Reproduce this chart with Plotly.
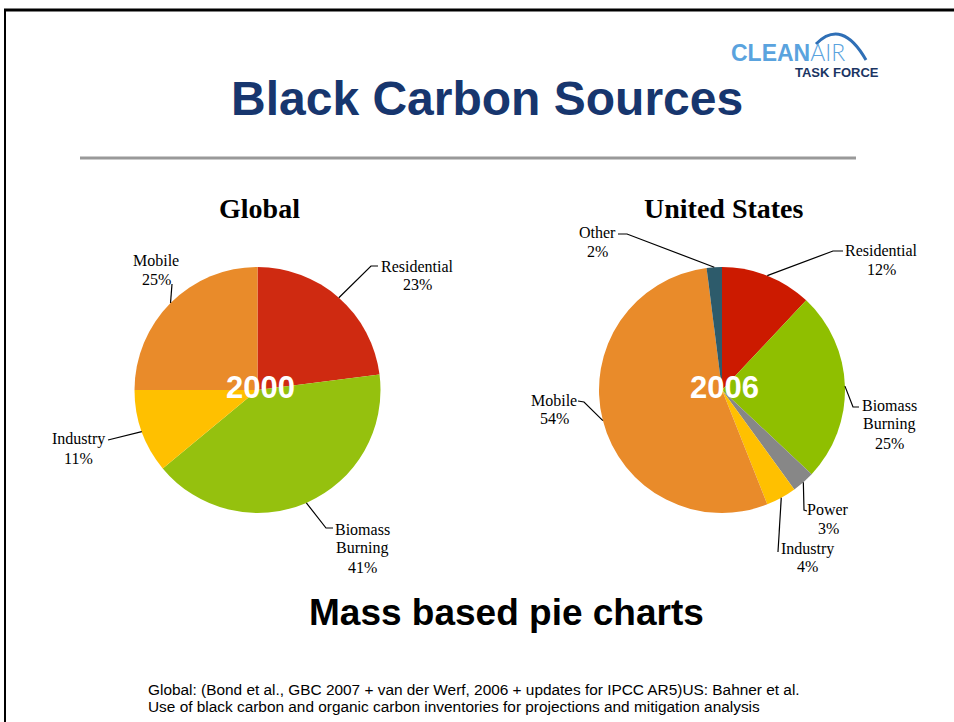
import math
import plotly.graph_objects as go

W, H = 954, 722

# ---------------- data ----------------
global_categories = ["Residential", "Biomass Burning", "Industry", "Mobile"]
global_values = [23, 41, 11, 25]
us_categories = ["Residential", "Biomass Burning", "Power", "Industry", "Mobile", "Other"]
us_values = [12, 25, 3, 4, 54, 2]
pie_titles = ["Global", "United States"]
pie_years = ["2000", "2006"]

# ---------------- styles / layout constants ----------------
global_colors = ["#CF2A11", "#95C10E", "#FFC000", "#E98B2A"]
us_colors = ["#CC1A00", "#8FBF00", "#878787", "#FFC000", "#E98B2A", "#2D5B6B"]
R = 123
GLOBAL_C = (257.5, 390)
US_C = (722, 390)

GLOBAL_LABELS = {
    "Residential": dict(via=[(371, 266), (378, 266)], x=417, ys=[266, 284]),
    "Biomass Burning": dict(via=[(326, 528), (333, 528)], x=362, ys=[529, 548, 567]),
    "Industry": dict(via=[(108, 440)], x=78, ys=[439, 458]),
    "Mobile": dict(via=[(172, 284)], x=156, ys=[260, 279]),
}
US_LABELS = {
    "Residential": dict(via=[(833, 251), (843, 251)], x=881, ys=[250, 269]),
    "Biomass Burning": dict(via=[(853, 407), (859, 407)], x=889, ys=[406, 424, 443]),
    "Power": dict(via=[(804, 510), (807, 511)], x=828, ys=[509, 528]),
    "Industry": dict(via=[(778, 552)], x=807, ys=[549, 566]),
    "Mobile": dict(via=[(584, 402), (578, 401)], x=554, ys=[400, 418]),
    "Other": dict(via=[(627, 234), (618, 234)], x=597, ys=[232, 251]),
}


def px(x, y):
    return x / W, 1 - y / H


def domain(c):
    cx, cy = c
    return dict(x=[(cx - R) / W, (cx + R) / W], y=[1 - (cy + R) / H, 1 - (cy - R) / H])


fig = go.Figure()
for cats, vals, cols, c in [(global_categories, global_values, global_colors, GLOBAL_C),
                            (us_categories, us_values, us_colors, US_C)]:
    fig.add_trace(go.Pie(
        labels=cats, values=vals, sort=False, direction="clockwise", rotation=0,
        marker=dict(colors=cols, line=dict(width=0)), textinfo="none",
        hoverinfo="label+percent", domain=domain(c), showlegend=False,
    ))

shapes = []
annotations = []


def add_labels(cats, vals, c, specs):
    total = sum(vals)
    cum = 0
    cx, cy = c
    for cat, v in zip(cats, vals):
        theta = 2 * math.pi * (cum + v / 2) / total
        cum += v
        ax, ay = cx + R * math.sin(theta), cy - R * math.cos(theta)
        spec = specs[cat]
        pts = [(ax, ay)] + spec["via"]
        path = "M " + " L ".join("%.5f,%.5f" % px(x, y) for x, y in pts)
        shapes.append(dict(type="path", path=path, xref="paper", yref="paper",
                           line=dict(color="black", width=1.2)))
        lines = cat.split(" ") + ["%d%%" % v]
        for text, yy in zip(lines, spec["ys"]):
            xx, yp = px(spec["x"], yy)
            annotations.append(dict(text=text, x=xx, y=yp, xref="paper", yref="paper",
                                    xanchor="center", yanchor="middle", showarrow=False,
                                    font=dict(family="Liberation Serif", size=16, color="black")))


add_labels(global_categories, global_values, GLOBAL_C, GLOBAL_LABELS)
add_labels(us_categories, us_values, US_C, US_LABELS)

# pie titles and center years
for title, year, c in zip(pie_titles, pie_years, [GLOBAL_C, US_C]):
    xx, yy = px(c[0] + 2, 208)
    annotations.append(dict(text="<b>%s</b>" % title, x=xx, y=yy, xref="paper", yref="paper",
                            xanchor="center", yanchor="middle", showarrow=False,
                            font=dict(family="Liberation Serif", size=28, color="black")))
    xx, yy = px(c[0] + 2.5, c[1] - 3)
    annotations.append(dict(text="<b>%s</b>" % year, x=xx, y=yy, xref="paper", yref="paper",
                            xanchor="center", yanchor="middle", showarrow=False,
                            font=dict(family="Liberation Sans", size=31, color="white")))

# main title
xx, yy = px(487, 98)
annotations.append(dict(text="<b>Black Carbon Sources</b>", x=xx, y=yy, xref="paper", yref="paper",
                        xanchor="center", yanchor="middle", showarrow=False,
                        font=dict(family="Liberation Sans", size=48, color="#17366E")))
# subtitle
xx, yy = px(506, 612)
annotations.append(dict(text="<b>Mass based pie charts</b>", x=xx, y=yy, xref="paper", yref="paper",
                        xanchor="center", yanchor="middle", showarrow=False,
                        font=dict(family="Liberation Sans", size=37, color="black")))
# footnote
foot = ["Global: (Bond et al., GBC 2007 + van der Werf, 2006 + updates for IPCC AR5)US: Bahner et al.",
        "Use of black carbon and organic carbon inventories for projections and mitigation analysis"]
for text, yy0 in zip(foot, [689, 706]):
    xx, yy = px(146, yy0)
    annotations.append(dict(text=text, x=xx, y=yy, xref="paper", yref="paper",
                            xanchor="left", yanchor="middle", showarrow=False,
                            font=dict(family="Liberation Sans", size=15.4, color="black")))

# logo
xx, yy = px(729, 52)
annotations.append(dict(
    text="<b>CLEAN</b><span style='font-family:Lato;font-weight:300'>AIR</span>",
    x=xx, y=yy, xref="paper", yref="paper",
    xanchor="left", yanchor="middle", showarrow=False,
    font=dict(family="Liberation Sans", size=23, color="#5AA3DE")))
xx, yy = px(837, 72)
annotations.append(dict(text="<b>TASK FORCE</b>", x=xx, y=yy, xref="paper", yref="paper",
                        xanchor="center", yanchor="middle", showarrow=False,
                        font=dict(family="Liberation Sans", size=13, color="#1B3563")))

a = px(816, 44); b = px(842, 18); e = px(866, 60)
shapes.append(dict(type="path", xref="paper", yref="paper",
                   path="M %.5f,%.5f Q %.5f,%.5f %.5f,%.5f" % (a + b + e),
                   line=dict(color="#2F6FB6", width=3)))

# border and rule
for (x0, y0, x1, y1, col, w) in [(4, 10, 954, 10, "black", 3), (5, 10, 5, 722, "black", 2),
                                  (80, 158, 856, 158, "#999999", 3)]:
    p0 = px(x0, y0); p1 = px(x1, y1)
    shapes.append(dict(type="line", xref="paper", yref="paper", x0=p0[0], y0=p0[1], x1=p1[0], y1=p1[1],
                       line=dict(color=col, width=w)))

fig.update_layout(width=W, height=H, autosize=False, margin=dict(l=0, r=0, t=0, b=0),
                  paper_bgcolor="white", plot_bgcolor="white",
                  shapes=shapes, annotations=annotations)
fig.write_html("out.html", config={"displayModeBar": False},
               post_script="document.body.style.margin='0';document.body.style.overflow='hidden';")
